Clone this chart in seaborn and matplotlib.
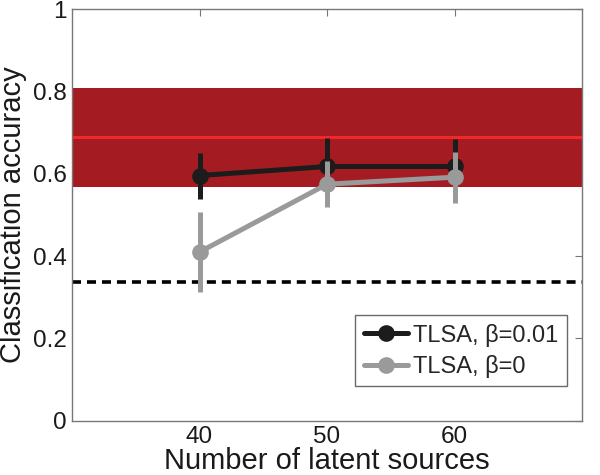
import matplotlib
matplotlib.use("Agg")
import matplotlib.pyplot as plt
import seaborn as sns
import pandas as pd

# Data
n_sources = [40, 50, 60]
acc_b001 = [0.596, 0.618, 0.618]
err_b001 = [0.056, 0.069, 0.067]
acc_b0 = [0.410, 0.575, 0.592]
err_b0 = [0.097, 0.056, 0.062]
band_low, band_high, band_mid = 0.569, 0.809, 0.690
chance = 0.337
labels = ["TLSA, β=0.01", "TLSA, β=0"]
colors = ["#1c1c1c", "#9a9a9a"]

sns.set_theme(style="white")
plt.rcParams['font.family'] = ['Liberation Sans', 'DejaVu Sans']

fig = plt.figure(figsize=(6, 4.75), dpi=100)
ax = fig.add_axes([0.12, 0.1143, 0.85, 0.866])

ax.axhspan(band_low, band_high, color="#a41c22", zorder=1, lw=0)
ax.axhline(band_mid, color="#f0282a", lw=2.2, zorder=2)
ax.axhline(chance, color="black", lw=2.6, ls=(0, (2.5, 1.65)), zorder=2)

df = pd.DataFrame({
    "n": n_sources * 2,
    "acc": acc_b001 + acc_b0,
    "err": err_b001 + err_b0,
    "model": [labels[0]] * 3 + [labels[1]] * 3,
})

for i, (lab, col) in enumerate(zip(labels, colors)):
    sub = df[df["model"] == lab]
    ax.errorbar(sub["n"], sub["acc"], yerr=sub["err"], fmt="none",
                ecolor=col, elinewidth=3.6, capsize=0, zorder=3 + 2 * i)
    sns.lineplot(data=sub, x="n", y="acc", ax=ax, color=col, lw=3.6,
                 marker="o", markersize=12, markeredgewidth=0,
                 label=lab, zorder=4 + 2 * i)

ax.set_xlim(30, 70)
ax.set_ylim(0, 1)
ax.set_xticks([40, 50, 60])
ax.set_yticks([0, 0.2, 0.4, 0.6, 0.8, 1])
ax.set_yticklabels(["0", "0.2", "0.4", "0.6", "0.8", "1"])
ax.tick_params(axis="both", labelsize=17.5, direction="in", length=5,
               color="#777777", width=0.8, top=True, right=True,
               labelcolor="#1a1a1a", pad=4)
for sp in ax.spines.values():
    sp.set_color("#777777")
    sp.set_linewidth(1.0)

ax.set_xlabel("Number of latent sources", fontsize=21, color="#1a1a1a", labelpad=-1)
ax.set_ylabel("Classification accuracy", fontsize=21, color="#1a1a1a", labelpad=4)

leg = ax.legend(loc="lower right", bbox_to_anchor=(0.97, 0.084), fontsize=17,
                frameon=True, fancybox=False, handlelength=1.9,
                handletextpad=0.2, borderpad=0.35, labelspacing=0.35,
                borderaxespad=0)
leg.get_frame().set_edgecolor("#444444")
leg.get_frame().set_linewidth(1.0)

fig.savefig("out.png", dpi=100)
